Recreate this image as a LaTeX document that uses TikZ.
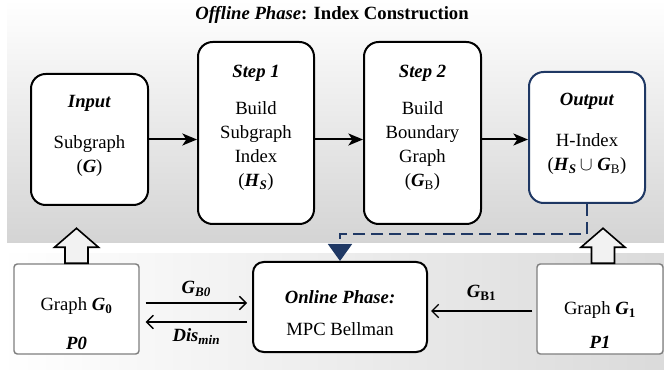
\documentclass[tikz,border=0pt]{standalone}
\usepackage{amsmath, amssymb}
\usepackage{fontspec}
\setmainfont{Liberation Serif}
\usetikzlibrary{arrows.meta, calc}
\definecolor{navyblue}{HTML}{1F3864}
\definecolor{panelgray}{HTML}{D4D4D4}
\definecolor{boxgray}{HTML}{7F7F7F}
\definecolor{hollowfill}{HTML}{F2F2F2}
\newcommand{\boxfont}{\fontsize{14}{18}\selectfont}
\newcommand{\bi}[1]{\textbf{\textit{#1}}}
\tikzset{every picture/.style={line width=0.75pt}}
\tikzset{
  phasebox/.style={draw=black, line width=1.5pt, rounded corners=11pt, fill=white, align=center, inner sep=0pt, font=\boxfont},
  partybox/.style={draw=boxgray, line width=1.1pt, rounded corners=2.5pt, fill=white, align=center, inner sep=0pt, font=\boxfont},
  flowarrow/.style={line width=1.5pt, -{Stealth[length=11pt, width=9pt, inset=3pt]}},
  msgarrow/.style={line width=1pt, -{Straight Barb[length=5pt, width=10pt]}},
  blockarrow/.style={draw=black, line width=1.2pt, fill=hollowfill, line join=miter},
}

\begin{document}
\begin{tikzpicture}[x=0.75pt,y=0.75pt,yscale=-1,xscale=1]
\useasboundingbox (0,0) rectangle (664,370);

%Shape: Panel offline
\shade[top color=white, bottom color=panelgray] (7,0) rectangle (664,243);
%Shape: Panel online
\shade[left color=white, right color=panelgray!85] (0,254) rectangle (664,370);

% Title
\node[font=\boxfont] (title) at (332,15) {\bfseries\textit{Offline Phase}: Index Construction};

%Boxes offline
\node[phasebox, minimum width=87.75pt, minimum height=98.25pt] (inp) at (89.5,139.5)
  {\bi{Input}\\[13pt] Subgraph\\ (\bi{G})\\[-10pt]};
\node[phasebox, minimum width=87pt, minimum height=136.5pt] (stepa) at (256,133)
  {\bi{Step 1}\\[10pt] Build\\ Subgraph\\ Index\\ (\bi{H}$_{\bi{S}}$)\\[-7pt]};
\node[phasebox, minimum width=87.75pt, minimum height=136.5pt] (stepb) at (422.5,133)
  {\bi{Step 2}\\[10pt] Build\\ Boundary\\ Graph\\ (\bi{G}$_{\textrm{B}}$)\\[-7pt]};
\node[phasebox, draw=navyblue, minimum width=87pt, minimum height=98.25pt] (outp) at (587,137.5)
  {\bi{Output}\\[13pt] H-Index\\ (\bi{H}$_{\bi{S}}\,{\cup}$ \bi{G}$_{\textrm{B}}$)\\[-9pt]};

%Boxes online
\node[phasebox, rounded corners=8pt, minimum width=130.5pt, minimum height=67.5pt] (online) at (340,307)
  {\rule{0pt}{19pt}\bi{Online Phase:}\\[6pt] MPC Bellman};
\node[partybox, minimum width=93.75pt, minimum height=67.5pt] (gzero) at (76.5,309)
  {\rule{0pt}{32pt}Graph \bi{G}$_{\textbf{0}}$\\[11pt] \bi{P0}};
\node[partybox, minimum width=94.5pt, minimum height=67.5pt] (gone) at (600,309)
  {\rule{0pt}{34pt}Graph \bi{G}$_{\textbf{1}}$\\[7pt] \bi{P1}};

%Straight Lines offline flow
\draw[flowarrow] (inp.east) -- (inp.east -| stepa.west);
\draw[flowarrow] (stepa.east |- inp.east) -- (stepb.west |- inp.east);
\draw[flowarrow] (stepb.east |- inp.east) -- (outp.west |- inp.east);

%Dashed link to online phase
\draw[navyblue, line width=1.3pt, dash pattern=on 9pt off 4.5pt, -{Triangle[length=12.75pt, width=18pt]}]
  (outp.south) -- ++(0,30) -| (online.north);

%Hollow up arrows
\draw[blockarrow] ($(gzero.north)+(-11.5,0)$) -- ++(0,-16) -- ++(-10.5,0) -- ++(22,-19) -- ++(22,19) -- ++(-10.5,0) -- ++(0,16) -- cycle;
\draw[blockarrow] ($(gone.north)+(-8.5,0)$) -- ++(0,-16) -- ++(-10.5,0) -- ++(22,-19) -- ++(22,19) -- ++(-10.5,0) -- ++(0,16) -- cycle;

%Message arrows
\draw[msgarrow] ($(gzero.east)+(6,-6)$) -- ($(online.west)+(-5,-4)$)
  node[midway, above=1pt, font=\boxfont] {\bi{G}$_{\bi{B0}}$};
\draw[msgarrow] ($(online.west)+(-5,15)$) -- ($(gzero.east)+(6,13)$)
  node[midway, below=1pt, font=\boxfont] {\bi{Dis}$_{\bi{min}}$};
\draw[msgarrow] ($(gone.west)+(-4,2)$) -- ($(online.east)+(3,4)$)
  node[midway, above=4pt, font=\boxfont] {\bi{G}$_{\textbf{B1}}$};

\end{tikzpicture}
\end{document}
